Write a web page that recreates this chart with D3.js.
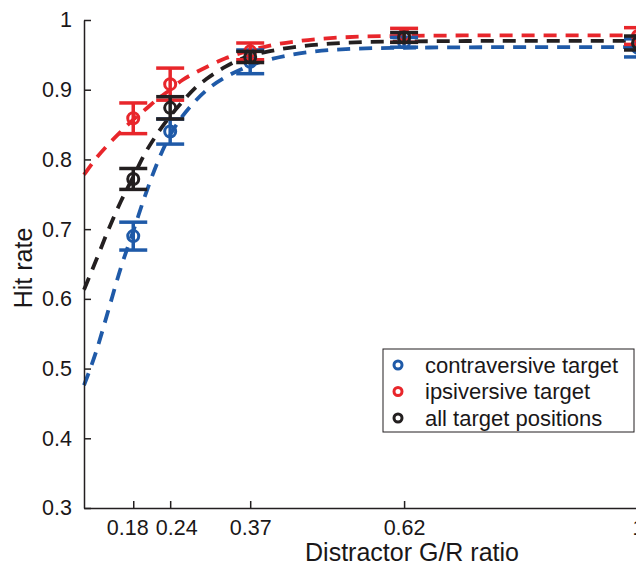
<!DOCTYPE html>
<meta charset='utf-8'>
<style>
  body { margin: 0; background: #fff; }
  text { font-family: 'Liberation Sans', Arial, sans-serif; fill: #1a1718; }
  .axis path, .axis line { stroke: #231f20; stroke-width: 1.5; fill: none; }
  .axis text { font-size: 21.5px; }
  .fit { fill: none; stroke-width: 3.8; stroke-dasharray: 13 9; }
  .bar { stroke-width: 3.5; fill: none; }
  .dot { fill: none; stroke-width: 3; }
</style>
<body>
<script src='https://cdn.jsdelivr.net/npm/d3@7'></script>
<script>
  // stimulus levels and tick labels
  const ratios = [0.18, 0.24, 0.37, 0.62, 1]
  const yTicks = [0.3, 0.4, 0.5, 0.6, 0.7, 0.8, 0.9, 1]

  // mean hit rate and error (half bar length) per condition
  const contraMean = [0.690, 0.840, 0.940, 0.968, 0.960]
  const contraErr  = [0.020, 0.018, 0.017, 0.007, 0.013]
  const ipsiMean   = [0.859, 0.908, 0.955, 0.978, 0.977]
  const ipsiErr    = [0.022, 0.023, 0.012, 0.010, 0.012]
  const allMean    = [0.772, 0.874, 0.947, 0.975, 0.967]
  const allErr     = [0.015, 0.016, 0.008, 0.007, 0.010]

  // fitted curves
  const fitX      = [0.10, 0.12, 0.14, 0.16, 0.18, 0.20, 0.22, 0.24, 0.26, 0.28, 0.30, 0.33, 0.36, 0.40, 0.45, 0.50, 0.60, 0.80, 1.00]
  const contraFit = [0.476, 0.525, 0.585, 0.645, 0.697, 0.750, 0.797, 0.835, 0.862, 0.883, 0.900, 0.918, 0.931, 0.943, 0.952, 0.957, 0.960, 0.961, 0.961]
  const ipsiFit   = [0.778, 0.802, 0.822, 0.840, 0.857, 0.872, 0.887, 0.900, 0.914, 0.924, 0.933, 0.945, 0.954, 0.963, 0.970, 0.974, 0.977, 0.978, 0.978]
  const allFit    = [0.613, 0.656, 0.700, 0.740, 0.775, 0.810, 0.838, 0.862, 0.883, 0.902, 0.916, 0.933, 0.946, 0.955, 0.962, 0.966, 0.969, 0.970, 0.970]

  const series = [
    {name: 'contraversive target', color: '#1f5aa8', mean: contraMean, err: contraErr, fit: contraFit},
    {name: 'ipsiversive target', color: '#e8262b', mean: ipsiMean, err: ipsiErr, fit: ipsiFit},
    {name: 'all target positions', color: '#231f20', mean: allMean, err: allErr, fit: allFit}
  ]

  const width = 636, height = 565
  const x = d3.scaleLinear().domain([0.1, 1]).range([84, 638])
  const y = d3.scaleLinear().domain([0.3, 1]).range([508, 20])

  const svg = d3.select('body').append('svg')
    .attr('width', width)
    .attr('height', height)

  const line = d3.line()
    .x(d => x(d[0]))
    .y(d => y(d[1]))
    .curve(d3.curveMonotoneX)

  svg.selectAll('.fit')
    .data(series)
    .enter().append('path')
    .attr('class', 'fit')
    .attr('stroke', d => d.color)
    .attr('d', d => line(fitX.map((v, i) => [v, d.fit[i]])))

  const capW = 14
  series.forEach(s => {
    const g = svg.append('g')
      .attr('stroke', s.color)
    ratios.forEach((r, i) => {
      const cx = x(r), lo = y(s.mean[i] - s.err[i]), hi = y(s.mean[i] + s.err[i])
      g.append('line').attr('class', 'bar')
        .attr('x1', cx).attr('x2', cx).attr('y1', lo).attr('y2', hi)
      g.append('line').attr('class', 'bar')
        .attr('x1', cx - capW).attr('x2', cx + capW).attr('y1', lo).attr('y2', lo)
      g.append('line').attr('class', 'bar')
        .attr('x1', cx - capW).attr('x2', cx + capW).attr('y1', hi).attr('y2', hi)
      g.append('circle').attr('class', 'dot')
        .attr('cx', cx).attr('cy', y(s.mean[i])).attr('r', 5.5)
    })
  })

  // axes with inward ticks
  const xAxis = svg.append('g')
    .attr('class', 'axis')
    .attr('transform', 'translate(0,508)')
    .call(d3.axisBottom(x).tickValues(ratios).tickFormat(d3.format('')).tickSizeInner(-7).tickSizeOuter(0).tickPadding(12))

  // the two crowded labels are nudged apart, as in the figure
  xAxis.selectAll('text')
    .attr('dx', d => d == 0.18 ? -6 : d == 0.24 ? 6 : 0)

  svg.append('g')
    .attr('class', 'axis')
    .attr('transform', 'translate(84,0)')
    .call(d3.axisLeft(y).tickValues(yTicks).tickFormat(d3.format('')).tickSizeInner(-7).tickSizeOuter(0).tickPadding(12))

  svg.selectAll('.axis text').attr('fill', '#1a1718')

  svg.append('text')
    .attr('transform', 'translate(32,268) rotate(-90)')
    .attr('text-anchor', 'middle')
    .style('font-size', '25px')
    .text('Hit rate')

  svg.append('text')
    .attr('x', 412)
    .attr('y', 561)
    .attr('text-anchor', 'middle')
    .style('font-size', '25px')
    .text('Distractor G/R ratio')

  // legend
  const lg = svg.append('g').attr('transform', 'translate(383,349)')
  lg.append('rect')
    .attr('width', 251).attr('height', 83)
    .attr('fill', '#fff').attr('stroke', '#231f20').attr('stroke-width', 1)
  series.forEach((s, i) => {
    lg.append('circle')
      .attr('cx', 15).attr('cy', 16 + i * 26.5).attr('r', 4)
      .attr('fill', 'none').attr('stroke', s.color).attr('stroke-width', 3)
    lg.append('text')
      .attr('x', 42).attr('y', 23.5 + i * 26.5)
      .style('font-size', '22px')
      .text(s.name)
  })
</script>
</body>
